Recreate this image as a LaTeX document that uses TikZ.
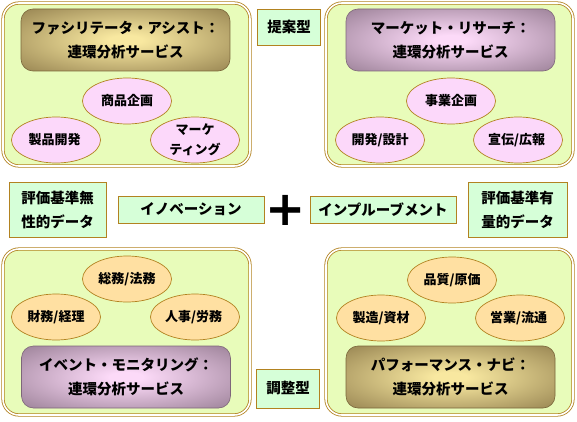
\documentclass[tikz,border=0pt]{standalone}
\usepackage{fontspec}
\setmainfont{Noto Sans CJK JP}
\newfontfamily\plusfont{DejaVu Sans}
\usetikzlibrary{shapes.geometric}

\definecolor{rim}{RGB}{178,130,32}
\definecolor{panelfill}{RGB}{232,252,186}
\definecolor{tagfill}{RGB}{214,255,216}
\definecolor{pinkfill}{RGB}{252,216,250}
\definecolor{orangefill}{RGB}{255,224,162}
\definecolor{goldin}{RGB}{248,232,160}
\definecolor{goldout}{RGB}{122,102,58}
\definecolor{plumin}{RGB}{252,218,248}
\definecolor{plumout}{RGB}{126,102,122}

\pgfdeclareradialshading{goldglow}{\pgfpoint{0bp}{0bp}}{color(0bp)=(goldin);
    color(4bp)=(goldin); color(46bp)=(goldout); color(72bp)=(goldout)}
\pgfdeclareradialshading{plumglow}{\pgfpoint{0bp}{0bp}}{color(0bp)=(plumin);
    color(4bp)=(plumin); color(46bp)=(plumout); color(72bp)=(plumout)}

\tikzset{
    panel/.style={draw=rim, line width=0.8pt, double=white, double distance=1.6pt,
        fill=panelfill, rounded corners=16pt, minimum width=247pt, minimum height=163pt},
    title/.style={line width=0.6pt, rounded corners=12pt,
        minimum width=209pt, minimum height=62pt, align=center,
        font=\bfseries\fontsize{14.5}{24}\selectfont},
    gold/.style={title, shading=goldglow, draw=goldout},
    plum/.style={title, shading=plumglow, draw=plumout},
    oval/.style={ellipse, draw=rim, line width=0.7pt, minimum width=89pt,
        minimum height=46pt, inner sep=0pt, align=center,
        font=\bfseries\fontsize{13}{20}\selectfont},
    tag/.style={draw=rim, line width=0.8pt, fill=tagfill, inner sep=0pt,
        align=center, font=\bfseries\fontsize{14.5}{24}\selectfont}
}

\begin{document}
\begin{tikzpicture}[x=1pt, y=-1pt]
    \useasboundingbox (0,0) rectangle (577,422);

    % Panel 1
    \node[panel] (panelA) at (126.5,84.5) {};
    \node[gold] (titleA) at (125.5,40) {ファシリテータ・アシスト：\\連環分析サービス};
    \foreach \x/\y/\nm/\val in {
        127/101/shohin/{商品企画},
        56/140/seihin/{製品開発}
        } {
        \node[oval, fill=pinkfill] (\nm) at (\x,\y) {\val};
    }
    \node[oval, fill=pinkfill] (market) at (195,140) {マーケ\\ティング};

    % Panel 2
    \node[panel] (panelB) at (449.5,84.5) {};
    \node[plum] (titleB) at (450.5,40) {マーケット・リサーチ：\\連環分析サービス};
    \foreach \x/\y/\nm/\val in {
        451/101/jigyo/{事業企画},
        380/140/kaihatsu/{開発/設計},
        518/140/senden/{宣伝/広報}
        } {
        \node[oval, fill=pinkfill] (\nm) at (\x,\y) {\val};
    }

    % Panel 3
    \node[panel, minimum height=166pt] (panelC) at (126.5,332) {};
    \node[plum] (titleC) at (126,377) {イベント・モニタリング：\\連環分析サービス};
    \foreach \x/\y/\nm/\val in {
        127/279/somu/{総務/法務},
        56/317/zaimu/{財務/経理},
        195/317/jinji/{人事/労務}
        } {
        \node[oval, fill=orangefill] (\nm) at (\x,\y) {\val};
    }

    % Panel 4
    \node[panel, minimum height=166pt] (panelD) at (449.5,332) {};
    \node[gold] (titleD) at (450.5,377) {パフォーマンス・ナビ：\\連環分析サービス};
    \foreach \x/\y/\nm/\val in {
        452/280/hinshitsu/{品質/原価},
        381/318/seizo/{製造/資材},
        520/318/eigyo/{営業/流通}
        } {
        \node[oval, fill=orangefill] (\nm) at (\x,\y) {\val};
    }

    % Tags
    \node[tag, minimum width=63pt, minimum height=36pt] (teian) at (289,27) {提案型};
    \node[tag, minimum width=63pt, minimum height=39pt] (chosei) at (288,388.5) {調整型};

    % Middle row
    \node[tag, minimum width=97pt, minimum height=55pt] (mu) at (57.5,209.5) {評価基準無\\性的データ};
    \node[tag, minimum width=146pt, minimum height=27pt] (innov) at (191,209.5) {イノベーション};
    \node[font=\plusfont\bfseries\fontsize{48}{48}\selectfont, inner sep=0pt] (plus) at (286,210) {+};
    \node[tag, minimum width=146pt, minimum height=27pt] (improve) at (383,209.5) {インプルーブメント};
    \node[tag, minimum width=99pt, minimum height=55pt] (yu) at (517.5,209.5) {評価基準有\\量的データ};
\end{tikzpicture}
\end{document}
